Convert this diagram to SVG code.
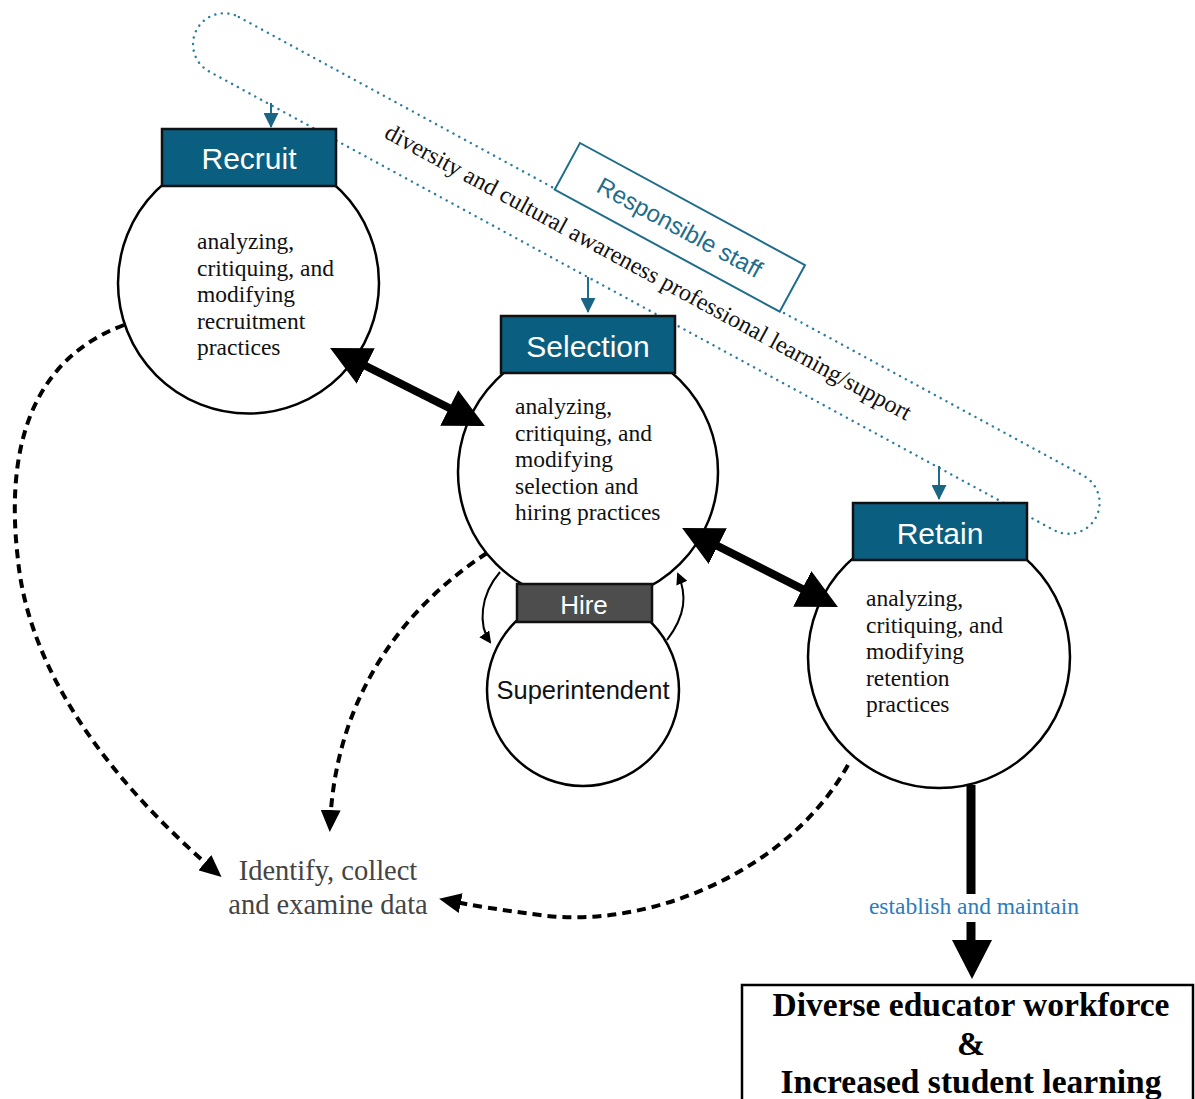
<svg xmlns="http://www.w3.org/2000/svg" width="1195" height="1099" viewBox="0 0 1195 1099">
<style>
.hdr{fill:#0a5e80;stroke:#111;stroke-width:2.5}
.hdrt{font-family:"Liberation Sans",Arial,sans-serif;font-size:30px;fill:#fff;text-anchor:middle}
.circ{fill:#fff;stroke:#000;stroke-width:2.5}
.body{font-family:"Liberation Serif","Times New Roman",serif;font-size:23.5px;fill:#111}
.thick{stroke:#000;stroke-width:8;fill:none}
.dash{stroke:#000;stroke-width:4;fill:none;stroke-dasharray:9 6}
.thin{stroke:#000;stroke-width:2;fill:none}
.teal{stroke:#1f6d8c;stroke-width:2;fill:none}
</style>
<defs>
<marker id="big" markerUnits="userSpaceOnUse" viewBox="0 0 40 40" refX="30" refY="20" markerWidth="40" markerHeight="40" orient="auto-start-reverse"><path d="M0,0 L40,20 L0,40 z" fill="#000"/></marker>
<marker id="dhead" markerUnits="userSpaceOnUse" viewBox="0 0 22 20" refX="16" refY="10" markerWidth="22" markerHeight="20" orient="auto"><path d="M0,0 L22,10 L0,20 z" fill="#000"/></marker>
<marker id="shead" markerUnits="userSpaceOnUse" viewBox="0 0 12 12" refX="10" refY="6" markerWidth="12" markerHeight="12" orient="auto"><path d="M0,0 L12,6 L0,12 z" fill="#000"/></marker>
<marker id="thead" markerUnits="userSpaceOnUse" viewBox="0 0 15 15" refX="14" refY="7.5" markerWidth="15" markerHeight="15" orient="auto"><path d="M0,0 L15,7.5 L0,15 z" fill="#1a6584"/></marker>
</defs>
<rect width="1195" height="1099" fill="#fff"/>

<g id="pd-loop">
<rect x="187" y="-99" width="1023" height="62" rx="31" transform="rotate(28.5)" fill="none" stroke="#2b7d9c" stroke-width="2.4" stroke-dasharray="0.1 6.5" stroke-linecap="round"/>
<text transform="translate(383,137) rotate(28.5)" font-family="Liberation Serif,'Times New Roman',serif" font-size="24" fill="#111">diversity and cultural awareness professional learning/support</text>
</g>

<g id="responsible-staff">
<rect x="0" y="0" width="256" height="53" transform="translate(580,143) rotate(28.5)" fill="#fff" stroke="#1f6d8c" stroke-width="2"/>
<text transform="translate(580,143) rotate(28.5)" x="128" y="35" text-anchor="middle" font-family="Liberation Sans,Arial,sans-serif" font-size="24" fill="#1f6d8c">Responsible staff</text>
</g>

<g id="recruit">
<circle class="circ" cx="248.5" cy="283" r="130.5"/>
<rect class="hdr" x="162" y="129" width="174" height="57"/>
<text class="hdrt" x="249" y="169">Recruit</text>
<text class="body"><tspan x="197" y="249">analyzing,</tspan><tspan x="197" y="275.5">critiquing, and</tspan><tspan x="197" y="302">modifying</tspan><tspan x="197" y="328.5">recruitment</tspan><tspan x="197" y="355">practices</tspan></text>
</g>

<g id="selection">
<circle class="circ" cx="588" cy="472" r="130"/>
<rect class="hdr" x="501" y="316" width="174" height="57"/>
<text class="hdrt" x="588" y="357">Selection</text>
<text class="body"><tspan x="515" y="414">analyzing,</tspan><tspan x="515" y="440.5">critiquing, and</tspan><tspan x="515" y="467">modifying</tspan><tspan x="515" y="493.5">selection and</tspan><tspan x="515" y="520">hiring practices</tspan></text>
</g>

<g id="superintendent">
<circle class="circ" cx="583" cy="690" r="96"/>
<rect x="517" y="584" width="135" height="38" fill="#4d4d4d" stroke="#111" stroke-width="2.5"/>
<text x="584" y="614" text-anchor="middle" font-family="Liberation Sans,Arial,sans-serif" font-size="26" fill="#fff">Hire</text>
<text x="583" y="699" text-anchor="middle" font-family="Liberation Sans,Arial,sans-serif" font-size="25.5" fill="#111">Superintendent</text>
</g>

<g id="retain">
<circle class="circ" cx="939" cy="657" r="131"/>
<rect class="hdr" x="853" y="503" width="174" height="57"/>
<text class="hdrt" x="940" y="544">Retain</text>
<text class="body"><tspan x="866" y="606">analyzing,</tspan><tspan x="866" y="632.5">critiquing, and</tspan><tspan x="866" y="659">modifying</tspan><tspan x="866" y="685.5">retention</tspan><tspan x="866" y="712">practices</tspan></text>
</g>

<g id="data">
<text font-family="Liberation Serif,'Times New Roman',serif" font-size="28.5" fill="#444" text-anchor="middle"><tspan x="328" y="880">Identify, collect</tspan><tspan x="328" y="914">and examine data</tspan></text>
</g>

<g id="outcome">
<rect x="742" y="985" width="451" height="130" fill="#fff" stroke="#000" stroke-width="2.5"/>
<text font-family="Liberation Serif,'Times New Roman',serif" font-size="33.5" font-weight="bold" fill="#000" text-anchor="middle"><tspan x="971" y="1016">Diverse educator workforce</tspan><tspan x="971" y="1055">&amp;</tspan><tspan x="971" y="1093">Increased student learning</tspan></text>
</g>

<g id="connectors">
<line class="teal" x1="271" y1="103" x2="271" y2="127" marker-end="url(#thead)"/>
<line class="teal" x1="588" y1="277" x2="588" y2="312" marker-end="url(#thead)"/>
<line class="teal" x1="939" y1="466" x2="939" y2="499" marker-end="url(#thead)"/>
<line class="thick" x1="339" y1="352.5" x2="476" y2="421.5" marker-start="url(#big)" marker-end="url(#big)"/>
<line class="thick" x1="691" y1="532.5" x2="829" y2="602.5" marker-start="url(#big)" marker-end="url(#big)"/>
<path class="dash" d="M124,325 C30,360 5,450 18,560 C30,680 120,790 217,873" marker-end="url(#dhead)"/>
<path class="dash" d="M487,553 C400,610 335,700 330,826" marker-end="url(#dhead)"/>
<path class="dash" d="M848,765 C790,870 650,930 540,915 C500,910 470,905 445,900" marker-end="url(#dhead)"/>
<path class="thin" d="M500,572 C480,595 478,625 490,642" marker-end="url(#shead)"/>
<path class="thin" d="M667,640 C686,615 687,595 678,574" marker-end="url(#shead)"/>
<line x1="971" y1="785" x2="971" y2="894" stroke="#000" stroke-width="9"/>
<line x1="971" y1="922" x2="971" y2="945" stroke="#000" stroke-width="9"/>
<path d="M952,940 L992,940 L972,979 z" fill="#000"/>
<text x="974" y="914" text-anchor="middle" font-family="Liberation Serif,'Times New Roman',serif" font-size="23.5" fill="#2a7cc0">establish and maintain</text>
</g>
</svg>
